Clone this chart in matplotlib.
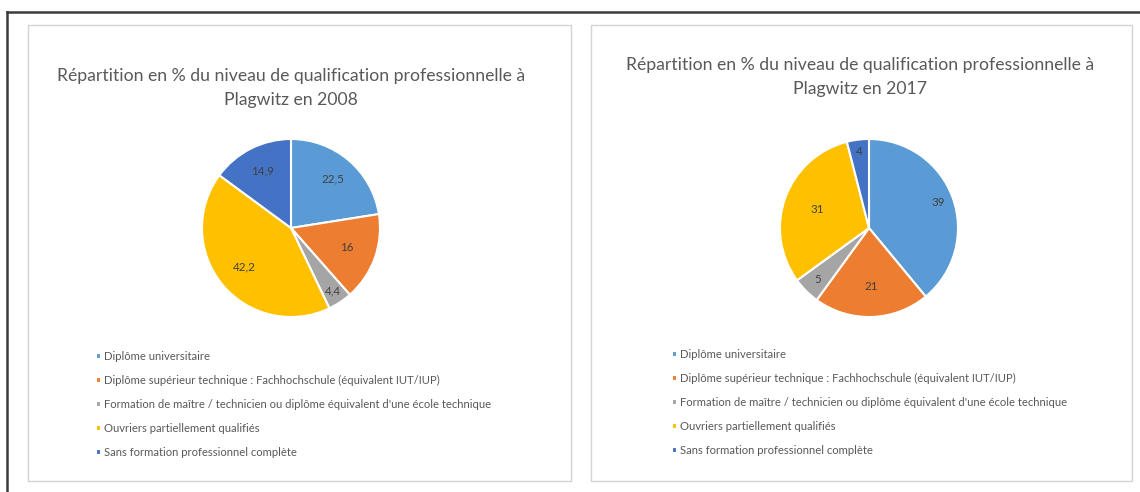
import matplotlib
matplotlib.use("Agg")
import matplotlib.pyplot as plt
from matplotlib.patches import Rectangle
from matplotlib.lines import Line2D
import numpy as np

categories = [
    "Diplôme universitaire",
    "Diplôme supérieur technique : Fachhochschule (équivalent IUT/IUP)",
    "Formation de maître / technicien ou diplôme équivalent d'une école technique",
    "Ouvriers partiellement qualifiés",
    "Sans formation professionnel complète",
]
values_2008 = [22.5, 16, 4.4, 42.2, 14.9]
labels_2008 = ["22,5", "16", "4,4", "42,2", "14,9"]
values_2017 = [39, 21, 5, 31, 4]
labels_2017 = ["39", "21", "5", "31", "4"]
titles = [
    "Répartition en % du niveau de qualification professionnelle à\nPlagwitz en 2008",
    "Répartition en % du niveau de qualification professionnelle à\nPlagwitz en 2017",
]

colors = ["#5B9BD5", "#ED7D31", "#A5A5A5", "#FFC000", "#4472C4"]
FONT = ["Lato", "DejaVu Sans"]
plt.rcParams["font.family"] = FONT

W, H = 1140, 492
fig = plt.figure(figsize=(W / 100, H / 100), dpi=100)
fig.patch.set_facecolor("white")


def fx(x):
    return x / W


def fy(y):
    return 1 - y / H


# outer frame lines
fig.add_artist(Line2D([fx(7), fx(1140)], [fy(12), fy(12)], color="#3c3c3c", lw=1.8,
                      transform=fig.transFigure, zorder=-5))
fig.add_artist(Line2D([fx(7), fx(7)], [fy(12), fy(492)], color="#3c3c3c", lw=1.8,
                      transform=fig.transFigure, zorder=-5))

panels = [(28, 25, 571, 481), (591, 25, 1132, 481)]
for (x0, y0, x1, y1) in panels:
    fig.add_artist(Rectangle((fx(x0), fy(y1)), fx(x1) - fx(x0), fy(y0) - fy(y1),
                             transform=fig.transFigure, facecolor="white",
                             edgecolor="#d4d4d4", lw=1.0, zorder=-10))

# pies: center (px), radius px
pie_specs = [
    dict(values=values_2008, labels=labels_2008, cx=291, cy=228, r=89,
         title=titles[0], tx=291, ty=88, lx=96, ly=351,
         ldist=[0.72, 0.66, 0.85, 0.68, 0.72]),
    dict(values=values_2017, labels=labels_2017, cx=869, cy=228, r=89,
         title=titles[1], tx=860, ty=77, lx=672, ly=349,
         ldist=[0.83, 0.66, 0.82, 0.62, 0.87]),
]

for spec in pie_specs:
    cx, cy, r = spec["cx"], spec["cy"], spec["r"]
    ax = fig.add_axes([fx(cx - r), fy(cy + r), (2 * r) / W, (2 * r) / H])
    ax.set_zorder(5)
    wedges, _ = ax.pie(spec["values"], colors=colors, startangle=90, counterclock=False,
                       wedgeprops=dict(edgecolor="white", linewidth=1.5))
    ax.set_xlim(-1, 1)
    ax.set_ylim(-1, 1)
    ax.set_aspect("equal")
    ax.axis("off")
    for w, lab, d in zip(wedges, spec["labels"], spec["ldist"]):
        ang = np.deg2rad((w.theta1 + w.theta2) / 2)
        ax.text(d * np.cos(ang), d * np.sin(ang), lab, ha="center", va="center",
                fontsize=8.3, color="#404040")
    fig.text(fx(spec["tx"]), fy(spec["ty"]), spec["title"], ha="center", va="center",
             fontsize=12.7, color="#595959", linespacing=1.6)
    fig.legend(wedges, categories, loc="upper left",
               bbox_to_anchor=(fx(spec["lx"]), fy(spec["ly"])),
               bbox_transform=fig.transFigure, frameon=False, fontsize=8.1,
               labelcolor="#595959", handlelength=0.42, handleheight=0.42,
               handletextpad=0.3, labelspacing=1.15, borderaxespad=0, borderpad=0)

fig.savefig("out.png", dpi=100, facecolor="white")
